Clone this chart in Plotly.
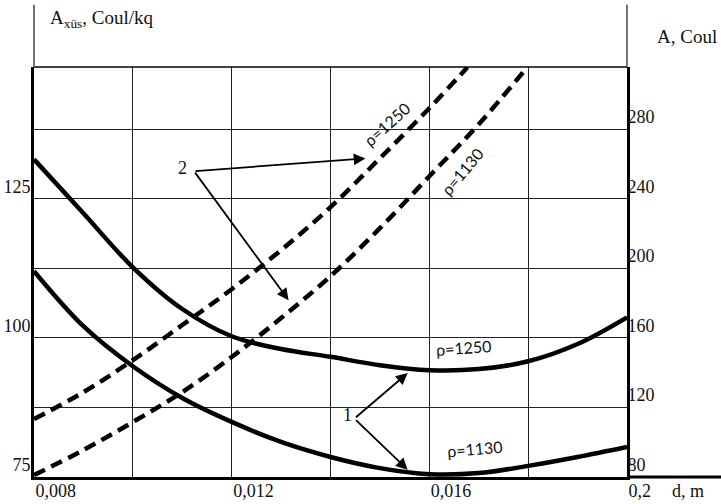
import plotly.graph_objects as go

# Grain diameter d, m
d_grid = [0.008, 0.009, 0.010, 0.011, 0.012, 0.013, 0.014,
          0.015, 0.016, 0.017, 0.018, 0.019, 0.020]

# Curves 1: specific charge A_xüs, Coul/kq (left axis)
a_spec_1250 = [132.1, 122.4, 112.7, 105.2, 100.3, 98.0, 96.6,
               95.1, 94.2, 94.4, 95.8, 98.9, 103.7]
a_spec_1130 = [112.0, 102.1, 94.9, 89.2, 84.9, 81.3, 78.6,
               76.6, 75.5, 75.7, 77.0, 78.6, 80.4]

# Curves 2: total charge A, Coul (right axis)
d_tot_1250 = [0.008, 0.009, 0.010, 0.011, 0.012, 0.013, 0.014,
              0.015, 0.016, 0.01677]
a_tot_1250 = [113.3, 128.8, 147.2, 167.4, 188.0, 210.5, 235.2,
              263.3, 292.1, 315.6]
d_tot_1130 = [0.008, 0.009, 0.010, 0.011, 0.012, 0.013, 0.014,
              0.015, 0.016, 0.017, 0.01798]
a_tot_1130 = [81.1, 95.5, 111.6, 128.8, 149.0, 171.4, 195.5,
              223.1, 253.0, 282.9, 315.6]

# Axis ticks
x_ticks = [0.008, 0.010, 0.012, 0.014, 0.016, 0.018, 0.020]
x_ticktext = ["0,008", "", "0,012", "", "0,016", "", "0,2"]
y_ticks = [75, 87.5, 100, 112.5, 125, 137.5]
y_ticktext = ["75", "", "100", "", "125", ""]
y2_ticks = [80, 120, 160, 200, 240, 280]
y2_ticktext = ["80", "120", "160", "200", "240", "280"]

SERIF = "Liberation Serif, Times New Roman, serif"
SANS = "Lato, Open Sans, sans-serif"
INK = "#111111"

fig = go.Figure()

solid = dict(color="black", width=4.5, shape="spline", smoothing=1.0)
dashed = dict(color="black", width=4.5, dash="12px,7px", shape="spline", smoothing=1.0)

fig.add_trace(go.Scatter(x=d_grid, y=a_spec_1250, mode="lines", line=solid,
                         yaxis="y", showlegend=False, hoverinfo="skip"))
fig.add_trace(go.Scatter(x=d_grid, y=a_spec_1130, mode="lines", line=solid,
                         yaxis="y", showlegend=False, hoverinfo="skip"))
fig.add_trace(go.Scatter(x=d_tot_1250, y=a_tot_1250, mode="lines", line=dashed,
                         yaxis="y2", showlegend=False, hoverinfo="skip"))
fig.add_trace(go.Scatter(x=d_tot_1130, y=a_tot_1130, mode="lines", line=dashed,
                         yaxis="y2", showlegend=False, hoverinfo="skip"))

tickfont = dict(family=SERIF, size=18, color=INK)

fig.update_layout(
    width=721, height=504,
    margin=dict(l=34, r=94, t=67, b=27),
    font=dict(family=SERIF, size=18, color=INK),
    paper_bgcolor="white", plot_bgcolor="white",
    xaxis=dict(range=[0.008, 0.020], tickmode="array", tickvals=x_ticks,
               ticktext=x_ticktext, showgrid=True, gridcolor="#222222",
               gridwidth=1, zeroline=False, showline=True, linecolor="black",
               linewidth=3, ticks="", ticklabelposition="outside right",
               ticklabelstandoff=-5, tickfont=tickfont, automargin=False),
    yaxis=dict(range=[75, 148.7], tickmode="array", tickvals=y_ticks,
               ticktext=y_ticktext, showgrid=True, gridcolor="#222222",
               gridwidth=1, zeroline=False, showline=True, linecolor="black",
               linewidth=3, ticks="", ticklabelposition="outside top",
               ticklabelstandoff=-3, tickfont=tickfont, automargin=False),
    yaxis2=dict(range=[80, 315.8], tickmode="array", tickvals=y2_ticks,
                ticktext=y2_ticktext, overlaying="y", side="right",
                showgrid=False, zeroline=False, showline=True,
                linecolor="black", linewidth=3, ticks="",
                ticklabelposition="outside top", ticklabelstandoff=-6,
                tickfont=tickfont, automargin=False),
)

# Frame pieces: top border, axis extensions above the grid, baseline extension
fig.add_shape(type="line", xref="paper", yref="paper", x0=0, x1=1, y0=1, y1=1,
              line=dict(color="black", width=1.3))
fig.add_shape(type="line", xref="paper", yref="paper", x0=0, x1=0, y0=1, y1=1.152,
              line=dict(color="#444444", width=1.5))
fig.add_shape(type="line", xref="paper", yref="paper", x0=1, x1=1, y0=1, y1=1.152,
              line=dict(color="#444444", width=1.5))
fig.add_shape(type="line", xref="paper", yref="paper", x0=1, x1=1.17, y0=0, y1=0,
              line=dict(color="black", width=3))

# Axis titles
fig.add_annotation(xref="paper", yref="paper", x=0.024, y=1.118, xanchor="left",
                   yanchor="middle", showarrow=False,
                   text="A<sub>xüs</sub>, Coul/kq",
                   font=dict(family=SERIF, size=19, color=INK))
fig.add_annotation(xref="paper", yref="paper", x=1.047, y=1.075, xanchor="left",
                   yanchor="middle", showarrow=False, text="A, Coul",
                   font=dict(family=SERIF, size=19, color=INK))
fig.add_annotation(xref="paper", yref="paper", x=1.072, y=-0.035, xanchor="left",
                   yanchor="middle", showarrow=False, text="d, m",
                   font=dict(family=SERIF, size=18, color=INK))

# Curve labels
rho_font = dict(family=SANS, size=16, color=INK)
fig.add_annotation(x=0.016687, y=98.3, xref="x", yref="y", text="ρ=1250",
                   showarrow=False, textangle=-4, font=rho_font)
fig.add_annotation(x=0.016923, y=80.15, xref="x", yref="y", text="ρ=1130",
                   showarrow=False, textangle=-5, font=rho_font)
fig.add_annotation(x=0.015125, y=282.9, xref="x", yref="y2", text="ρ=1250",
                   showarrow=False, textangle=-42, font=rho_font)
fig.add_annotation(x=0.016657, y=255.9, xref="x", yref="y2", text="ρ=1130",
                   showarrow=False, textangle=-50, font=rho_font)

# Group markers with pointer arrows
num_font = dict(family=SERIF, size=18, color=INK)
fig.add_annotation(x=0.011, y=257.5, xref="x", yref="y2", text="2",
                   showarrow=False, font=num_font)
fig.add_annotation(x=0.01435, y=86.1, xref="x", yref="y", text="1",
                   showarrow=False, font=num_font)

arrow = dict(showarrow=True, arrowhead=2, arrowsize=1.3, arrowwidth=1.8,
             arrowcolor="black", text="", standoff=0, startstandoff=0)
fig.add_annotation(x=0.014707, y=263.2, xref="x", yref="y2",
                   ax=0.011238, ay=255.9, axref="x", ayref="y2", **arrow)
fig.add_annotation(x=0.013152, y=181.7, xref="x", yref="y2",
                   ax=0.011238, ay=255.9, axref="x", ayref="y2", **arrow)
fig.add_annotation(x=0.015562, y=93.7, xref="x", yref="y",
                   ax=0.014485, ay=85.5, axref="x", ayref="y", **arrow)
fig.add_annotation(x=0.015562, y=76.3, xref="x", yref="y",
                   ax=0.014485, ay=85.5, axref="x", ayref="y", **arrow)

fig.write_html("out.html")
